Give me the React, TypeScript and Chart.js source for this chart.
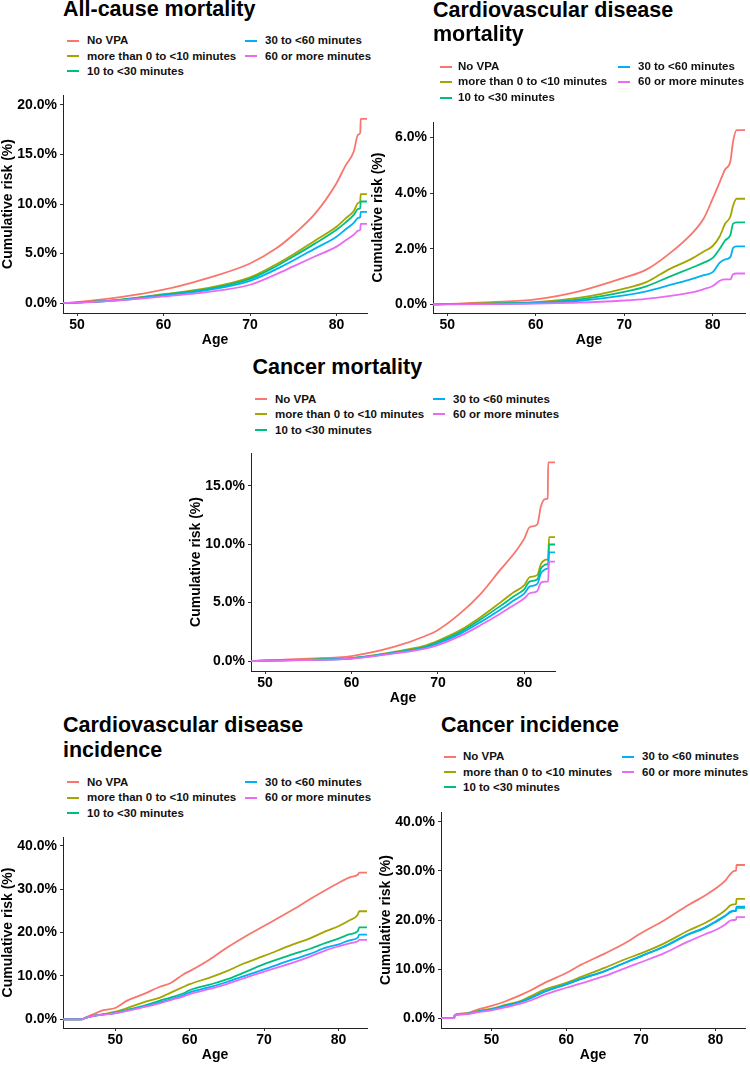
import React, { useEffect, useRef } from 'react';
import { Chart, registerables } from 'chart.js';

Chart.register(...registerables);

// ---------- shared labels / colours ----------
const seriesNames = [
  'No VPA',
  'more than 0 to <10 minutes',
  '10 to <30 minutes',
  '30 to <60 minutes',
  '60 or more minutes',
];
const seriesColors = ['#F8766D', '#A3A500', '#00BF7D', '#00B0F6', '#E76BF3'];
const xTickValues = [50, 60, 70, 80];
const xAxisTitle = 'Age';
const yAxisTitle = 'Cumulative risk (%)';

// ---------- Panel 1: All-cause mortality ----------
const allAges = [48.37, 50, 55, 60, 65, 70, 73, 75, 77.5, 80, 81, 82, 82.5, 82.75, 82.8, 83.53];
const allNoVPA = [0, 0.1, 0.6, 1.35, 2.5, 4.0, 5.5, 6.9, 9.0, 12.1, 13.8, 15.3, 17.0, 17.2, 18.6, 18.6];
const allLt10 = [0, 0.05, 0.35, 0.9, 1.5, 2.6, 3.9, 4.9, 6.3, 7.7, 8.5, 9.3, 10.1, 10.3, 11.0, 11.0];
const all10to30 = [0, 0.05, 0.33, 0.85, 1.4, 2.45, 3.7, 4.7, 6.0, 7.4, 8.1, 8.9, 9.5, 9.6, 10.25, 10.25];
const all30to60 = [0, 0.05, 0.3, 0.77, 1.3, 2.25, 3.4, 4.3, 5.5, 6.7, 7.4, 8.1, 8.6, 8.7, 9.2, 9.2];
const all60plus = [0, 0.05, 0.28, 0.67, 1.1, 1.85, 2.9, 3.7, 4.7, 5.7, 6.3, 6.9, 7.3, 7.4, 8.0, 8.0];
const allYTicks = [0, 5, 10, 15, 20];

// ---------- Panel 2: Cardiovascular disease mortality ----------
const cvdmAges = [48.4, 50, 55, 60, 65, 70, 72.5, 75, 77.5, 79, 80, 80.8, 81.4, 82, 82.3, 82.7, 83.65];
const cvdmNoVPA = [0, 0.02, 0.08, 0.18, 0.48, 0.96, 1.25, 1.8, 2.5, 3.1, 3.8, 4.4, 4.85, 5.15, 5.85, 6.27, 6.27];
const cvdmLt10 = [0, 0.01, 0.04, 0.08, 0.24, 0.57, 0.8, 1.25, 1.62, 1.9, 2.1, 2.45, 2.9, 3.16, 3.55, 3.8, 3.8];
const cvdm10to30 = [0, 0.01, 0.03, 0.06, 0.18, 0.45, 0.65, 0.98, 1.3, 1.5, 1.67, 2.0, 2.3, 2.5, 2.9, 2.95, 2.95];
const cvdm30to60 = [0, 0.01, 0.02, 0.05, 0.13, 0.32, 0.47, 0.68, 0.9, 1.05, 1.16, 1.5, 1.62, 1.7, 2.03, 2.09, 2.09];
const cvdm60plus = [0, 0, 0.01, 0.03, 0.06, 0.14, 0.2, 0.3, 0.42, 0.55, 0.66, 0.85, 0.9, 0.9, 1.08, 1.11, 1.11];
const cvdmYTicks = [0, 2, 4, 6];

// ---------- Panel 3: Cancer mortality ----------
const canmAges = [48.38, 50, 55, 60, 65, 68.4, 70, 72.6, 75, 77.2, 78.8, 80, 80.6, 81.5, 81.9, 82.4, 82.7, 82.75, 82.85, 83.54];
const canmNoVPA = [0, 0.05, 0.2, 0.43, 1.23, 2.1, 2.66, 4.1, 5.8, 7.8, 9.2, 10.5, 11.45, 11.7, 13.2, 13.85, 13.9, 17.0, 17.0, 17.0];
const canmLt10 = [0, 0.03, 0.12, 0.26, 0.8, 1.3, 1.74, 2.65, 3.8, 5.0, 5.9, 6.5, 7.17, 7.37, 8.3, 8.66, 8.7, 8.7, 10.6, 10.6];
const canm10to30 = [0, 0.03, 0.11, 0.24, 0.74, 1.2, 1.63, 2.5, 3.6, 4.7, 5.55, 6.15, 6.8, 7.0, 7.9, 8.25, 8.3, 8.3, 9.97, 9.97];
const canm30to60 = [0, 0.03, 0.1, 0.22, 0.7, 1.12, 1.5, 2.35, 3.37, 4.4, 5.2, 5.8, 6.37, 6.6, 7.5, 7.85, 7.9, 7.9, 9.3, 9.3];
const canm60plus = [0, 0.02, 0.09, 0.2, 0.66, 1.05, 1.37, 2.15, 3.1, 4.05, 4.8, 5.37, 5.8, 6.0, 6.7, 6.8, 6.8, 6.8, 8.5, 8.5];
const canmYTicks = [0, 5, 10, 15];

// ---------- Panel 4: Cardiovascular disease incidence ----------
const cvdiAges = [42.98, 45.5, 46.0, 47.1, 48.4, 50, 51.6, 53.8, 56, 57.4, 59.2, 60, 62.7, 65, 67.2, 70, 73.9, 76.1, 78.3, 80, 81.5, 82.6, 82.8, 83.84];
const cvdiNoVPA = [0, 0, 0.4, 1.2, 2.1, 2.6, 4.3, 5.8, 7.5, 8.3, 10.4, 11.1, 13.8, 16.5, 18.8, 21.5, 25.3, 27.6, 29.8, 31.4, 32.7, 33.3, 33.8, 33.8];
const cvdiLt10 = [0, 0, 0.35, 0.8, 1.2, 1.75, 2.6, 3.9, 5.0, 6.1, 7.5, 8.1, 9.6, 11.1, 12.8, 14.6, 17.25, 18.6, 20.3, 21.45, 22.8, 24.1, 24.9, 24.9];
const cvdi10to30 = [0, 0, 0.35, 0.8, 1.15, 1.5, 2.2, 3.1, 4.3, 5.0, 6.0, 6.7, 8.0, 9.2, 10.7, 12.7, 15.0, 16.2, 17.6, 18.6, 19.6, 20.3, 21.2, 21.2];
const cvdi30to60 = [0, 0, 0.35, 0.8, 1.1, 1.45, 2.0, 2.9, 3.9, 4.6, 5.6, 6.2, 7.4, 8.6, 9.9, 11.5, 13.8, 15.0, 16.5, 17.25, 18.2, 18.8, 19.5, 19.5];
const cvdi60plus = [0, 0, 0.35, 0.8, 1.1, 1.4, 1.95, 2.8, 3.7, 4.4, 5.3, 5.8, 7.0, 8.1, 9.4, 11.0, 13.05, 14.4, 15.9, 16.8, 17.5, 18.0, 18.3, 18.3];
const cvdiYTicks = [0, 10, 20, 30, 40];

// ---------- Panel 5: Cancer incidence ----------
const caniAges = [43.22, 45.0, 45.05, 46.4, 48.2, 50, 51.8, 54, 55.4, 57.1, 60, 62, 65.2, 67.9, 70, 73.2, 76.3, 78.6, 80, 81.3, 82, 82.5, 82.75, 82.8, 83.94];
const caniNoVPA = [0, 0, 0.67, 1.0, 1.8, 2.5, 3.4, 4.8, 5.8, 7.2, 9.2, 10.9, 13.2, 15.3, 17.3, 20.0, 23.0, 25.0, 26.4, 28.0, 29.4, 30.0, 30.1, 31.2, 31.2];
const caniLt10 = [0, 0, 0.65, 0.9, 1.5, 1.95, 2.7, 3.6, 4.6, 5.8, 7.2, 8.4, 10.3, 12.0, 13.2, 15.3, 17.8, 19.4, 20.6, 22.0, 23.0, 23.2, 23.3, 24.3, 24.3];
const cani10to30 = [0, 0, 0.65, 0.85, 1.35, 1.8, 2.5, 3.4, 4.2, 5.4, 6.9, 8.0, 9.6, 11.3, 12.6, 14.6, 17.0, 18.4, 19.6, 20.8, 21.6, 21.8, 21.9, 22.5, 22.5];
const cani30to60 = [0, 0, 0.65, 0.85, 1.35, 1.8, 2.5, 3.4, 4.25, 5.45, 6.95, 8.05, 9.65, 11.35, 12.65, 14.7, 17.1, 18.5, 19.7, 20.9, 21.7, 21.9, 22.0, 22.7, 22.7];
const cani60plus = [0, 0, 0.6, 0.8, 1.25, 1.6, 2.2, 3.0, 3.7, 4.8, 6.2, 7.1, 8.6, 10.2, 11.4, 13.3, 15.6, 17.1, 17.95, 19.1, 19.9, 20.0, 20.1, 20.6, 20.6];
const caniYTicks = [0, 10, 20, 30, 40];

// ---------- layout (positions, not data) ----------
type PanelCfg = {
  titleLines: string[];
  titleX: number;
  titleBaselines: number[];
  legendRows: number[];
  key1X: number; text1X: number; key2X: number; text2X: number;
  ages: number[];
  series: number[][];
  yTicks: number[];
  xMin: number; xMax: number; yMin: number; yMax: number;
  canvasLeft: number; canvasTop: number; canvasW: number; canvasH: number; padRight: number;
};

const FONT = '"Liberation Sans", Arial, Helvetica, sans-serif';
const Y_AXIS_W = 63;
const X_AXIS_H = 36;
const PAD_TOP = 20;

const panels: PanelCfg[] = [
  {
    titleLines: ['All-cause mortality'], titleX: 63, titleBaselines: [17.3],
    legendRows: [40.7, 56, 71.3], key1X: 67, text1X: 87, key2X: 245, text2X: 265,
    ages: allAges, series: [allNoVPA, allLt10, all10to30, all30to60, all60plus], yTicks: allYTicks,
    xMin: 48.37, xMax: 83.53, yMin: -1, yMax: 21,
    canvasLeft: 0, canvasTop: 95 - PAD_TOP, canvasW: Y_AXIS_W + 304 + 8, canvasH: PAD_TOP + 218 + X_AXIS_H, padRight: 8,
  },
  {
    titleLines: ['Cardiovascular disease', 'mortality'], titleX: 433, titleBaselines: [18, 42.5],
    legendRows: [66.7, 81.7, 97.7], key1X: 440, text1X: 458, key2X: 618, text2X: 638,
    ages: cvdmAges, series: [cvdmNoVPA, cvdmLt10, cvdm10to30, cvdm30to60, cvdm60plus], yTicks: cvdmYTicks,
    xMin: 48.4, xMax: 83.65, yMin: -0.31, yMax: 6.56,
    canvasLeft: 433 - Y_AXIS_W, canvasTop: 122 - PAD_TOP, canvasW: Y_AXIS_W + 312 + 5, canvasH: PAD_TOP + 191 + X_AXIS_H, padRight: 5,
  },
  {
    titleLines: ['Cancer mortality'], titleX: 252.5, titleBaselines: [375],
    legendRows: [399, 414.3, 430], key1X: 255, text1X: 275, key2X: 433, text2X: 453,
    ages: canmAges, series: [canmNoVPA, canmLt10, canm10to30, canm30to60, canm60plus], yTicks: canmYTicks,
    xMin: 48.38, xMax: 83.54, yMin: -0.85, yMax: 17.8,
    canvasLeft: 251 - Y_AXIS_W, canvasTop: 453 - PAD_TOP, canvasW: Y_AXIS_W + 304 + 8, canvasH: PAD_TOP + 218 + X_AXIS_H, padRight: 8,
  },
  {
    titleLines: ['Cardiovascular disease', 'incidence'], titleX: 63, titleBaselines: [733.5, 758],
    legendRows: [782.3, 797.7, 813.3], key1X: 67, text1X: 87, key2X: 245, text2X: 265,
    ages: cvdiAges, series: [cvdiNoVPA, cvdiLt10, cvdi10to30, cvdi30to60, cvdi60plus], yTicks: cvdiYTicks,
    xMin: 42.98, xMax: 83.84, yMin: -2, yMax: 42,
    canvasLeft: 0, canvasTop: 837 - PAD_TOP, canvasW: Y_AXIS_W + 304 + 8, canvasH: PAD_TOP + 191 + X_AXIS_H, padRight: 8,
  },
  {
    titleLines: ['Cancer incidence'], titleX: 441, titleBaselines: [733.3],
    legendRows: [756.7, 772, 787.3], key1X: 444, text1X: 463, key2X: 622, text2X: 642,
    ages: caniAges, series: [caniNoVPA, caniLt10, cani10to30, cani30to60, cani60plus], yTicks: caniYTicks,
    xMin: 43.22, xMax: 83.94, yMin: -2, yMax: 42,
    canvasLeft: 441 - Y_AXIS_W, canvasTop: 812 - PAD_TOP, canvasW: Y_AXIS_W + 304 + 5, canvasH: PAD_TOP + 216 + X_AXIS_H, padRight: 5,
  },
];

const TITLE_FS = 21.5;
const LEGEND_FS = 11.5;
const KEY_W = 12;

function PanelChart({ cfg }: { cfg: PanelCfg }) {
  const ref = useRef<HTMLCanvasElement | null>(null);
  useEffect(() => {
    if (!ref.current) return;
    const tickFont = { family: FONT, size: 14, weight: 'bold' as const };
    const chart = new Chart(ref.current, {
      type: 'line',
      data: {
        datasets: cfg.series.map((vals, i) => ({
          label: seriesNames[i],
          data: cfg.ages.map((a, j) => ({ x: a, y: vals[j] })),
          borderColor: seriesColors[i],
          backgroundColor: seriesColors[i],
          borderWidth: 1.8,
          pointRadius: 0,
          fill: false,
          cubicInterpolationMode: 'monotone',
          order: 5 - i,
        })),
      },
      options: {
        responsive: false,
        animation: false,
        devicePixelRatio: 1,
        layout: { padding: { top: PAD_TOP, right: cfg.padRight, left: 0, bottom: 0 } },
        plugins: { legend: { display: false }, tooltip: { enabled: false }, title: { display: false } },
        scales: {
          x: {
            type: 'linear',
            bounds: 'data',
            min: cfg.xMin,
            max: cfg.xMax,
            afterBuildTicks: (ax: any) => { ax.ticks = xTickValues.map((v) => ({ value: v })); },
            afterFit: (s: any) => { s.height = X_AXIS_H; },
            grid: { drawOnChartArea: false, drawTicks: true, tickLength: 3, tickColor: '#333', tickWidth: 1 },
            border: { display: true, color: '#222', width: 1 },
            ticks: { autoSkip: false, maxRotation: 0, padding: 1, color: '#000', font: tickFont, callback: (v: any) => String(v) },
            title: { display: true, text: xAxisTitle, color: '#000', font: tickFont, padding: { top: 0, bottom: 0 } },
          },
          y: {
            type: 'linear',
            bounds: 'data',
            min: cfg.yMin,
            max: cfg.yMax,
            afterBuildTicks: (ax: any) => { ax.ticks = cfg.yTicks.map((v) => ({ value: v })); },
            afterFit: (s: any) => { s.width = Y_AXIS_W; },
            grid: { drawOnChartArea: false, drawTicks: true, tickLength: 3, tickColor: '#333', tickWidth: 1 },
            border: { display: true, color: '#222', width: 1 },
            ticks: { autoSkip: false, padding: 3, color: '#000', font: tickFont, callback: (v: any) => Number(v).toFixed(1) + '%' },
            title: { display: true, text: yAxisTitle, color: '#000', font: tickFont, padding: { top: 0, bottom: 0 } },
          },
        },
      } as any,
    });
    return () => chart.destroy();
  }, [cfg]);
  return (
    <canvas
      ref={ref}
      width={cfg.canvasW}
      height={cfg.canvasH}
      style={{ position: 'absolute', left: cfg.canvasLeft, top: cfg.canvasTop, width: cfg.canvasW, height: cfg.canvasH, display: 'block' }}
    />
  );
}

function PanelText({ cfg }: { cfg: PanelCfg }) {
  const items = [
    { i: 0, keyX: cfg.key1X, textX: cfg.text1X, y: cfg.legendRows[0] },
    { i: 1, keyX: cfg.key1X, textX: cfg.text1X, y: cfg.legendRows[1] },
    { i: 2, keyX: cfg.key1X, textX: cfg.text1X, y: cfg.legendRows[2] },
    { i: 3, keyX: cfg.key2X, textX: cfg.text2X, y: cfg.legendRows[0] },
    { i: 4, keyX: cfg.key2X, textX: cfg.text2X, y: cfg.legendRows[1] },
  ];
  return (
    <>
      {cfg.titleLines.map((line, k) => (
        <div
          key={'t' + k}
          style={{
            position: 'absolute', left: cfg.titleX, top: cfg.titleBaselines[k] - 0.8465 * TITLE_FS,
            fontSize: TITLE_FS, lineHeight: TITLE_FS + 'px', fontWeight: 'bold', color: '#000', whiteSpace: 'nowrap',
          }}
        >
          {line}
        </div>
      ))}
      {items.map((it) => (
        <React.Fragment key={'l' + it.i}>
          <div style={{ position: 'absolute', left: it.keyX, top: it.y - 1, width: KEY_W, height: 2, background: seriesColors[it.i] }} />
          <div
            style={{
              position: 'absolute', left: it.textX, top: it.y - 7.5, fontSize: LEGEND_FS, lineHeight: '15px',
              fontWeight: 'bold', color: '#111', whiteSpace: 'nowrap',
            }}
          >
            {seriesNames[it.i]}
          </div>
        </React.Fragment>
      ))}
    </>
  );
}

export default function App() {
  return (
    <div style={{ position: 'absolute', left: 0, top: 0, width: 750, height: 1066, background: '#fff', fontFamily: FONT, overflow: 'hidden' }}>
      {panels.map((p, k) => (
        <React.Fragment key={k}>
          <PanelText cfg={p} />
          <PanelChart cfg={p} />
        </React.Fragment>
      ))}
    </div>
  );
}
